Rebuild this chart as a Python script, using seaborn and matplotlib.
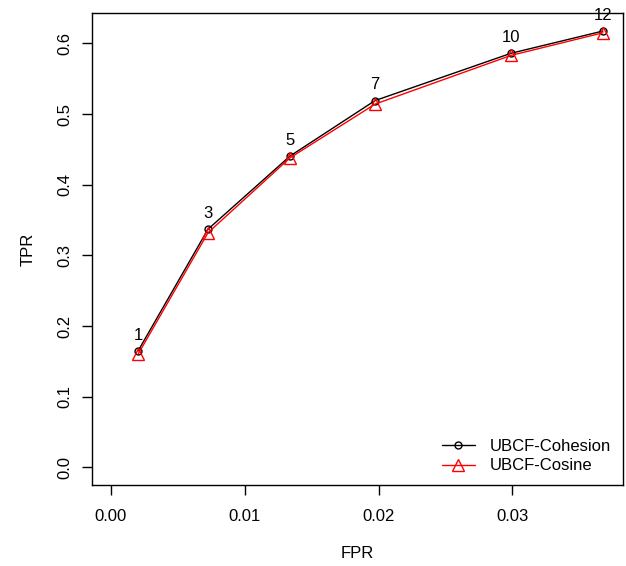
import matplotlib
matplotlib.use("Agg")
import matplotlib.pyplot as plt
import seaborn as sns
import pandas as pd

# Values
n_neighbors = ["1", "3", "5", "7", "10", "12"]
fpr = [0.00202, 0.00725, 0.01338, 0.01973, 0.0299, 0.03677]
tpr_cohesion = [0.1646, 0.337, 0.4405, 0.519, 0.586, 0.6175]
tpr_cosine = [0.160, 0.332, 0.438, 0.514, 0.583, 0.615]

x_ticks = [0.00, 0.01, 0.02, 0.03]
x_labels = ["0.00", "0.01", "0.02", "0.03"]
y_ticks = [0.0, 0.1, 0.2, 0.3, 0.4, 0.5, 0.6]
y_labels = ["0.0", "0.1", "0.2", "0.3", "0.4", "0.5", "0.6"]

sns.set_style("white")
plt.rcParams['font.family'] = ['Liberation Sans', 'DejaVu Sans']
plt.rcParams['text.color'] = 'black'
plt.rcParams['axes.labelcolor'] = 'black'

df = pd.DataFrame({"FPR": fpr, "Cohesion": tpr_cohesion, "Cosine": tpr_cosine})

fig = plt.figure(figsize=(6.26, 5.66), dpi=100)
ax = fig.add_axes([92 / 626, 1 - 485 / 566, (623 - 92) / 626, (485 - 13) / 566])

sns.lineplot(data=df, x="FPR", y="Cohesion", ax=ax, color="black", lw=1,
             marker="o", markersize=5, markerfacecolor="none",
             markeredgecolor="black", markeredgewidth=1, label="UBCF-Cohesion")
sns.lineplot(data=df, x="FPR", y="Cosine", ax=ax, color="red", lw=1,
             marker="^", markersize=8, markerfacecolor="none",
             markeredgecolor="red", markeredgewidth=1, label="UBCF-Cosine")

# number of neighbours above the points
for lab, xv, yv in zip(n_neighbors, fpr, tpr_cohesion):
    ax.annotate(lab, (xv, yv), xytext=(0, 6), textcoords="offset points",
                ha="center", va="bottom", fontsize=12)

ax.set_xlim(-0.00142, 0.03827)
ax.set_ylim(-0.025, 0.643)
ax.set_xticks(x_ticks)
ax.set_xticklabels(x_labels)
ax.set_yticks(y_ticks)
ax.set_yticklabels(y_labels, rotation=90, va="center")
ax.tick_params(axis="both", direction="out", length=7, width=1, colors="black",
               labelsize=12, bottom=True, left=True)
ax.tick_params(axis="x", pad=10)
ax.tick_params(axis="y", pad=7)
for sp in ax.spines.values():
    sp.set_color("black")
    sp.set_linewidth(1)

ax.set_xlabel("FPR", fontsize=12, labelpad=16)
ax.set_ylabel("TPR", fontsize=12, labelpad=16)

ax.legend(loc="lower right", frameon=False, fontsize=12, handlelength=2.0,
          handletextpad=0.9, labelspacing=0.25, borderaxespad=0.3)

plt.savefig("out.png", dpi=100)
plt.close()
